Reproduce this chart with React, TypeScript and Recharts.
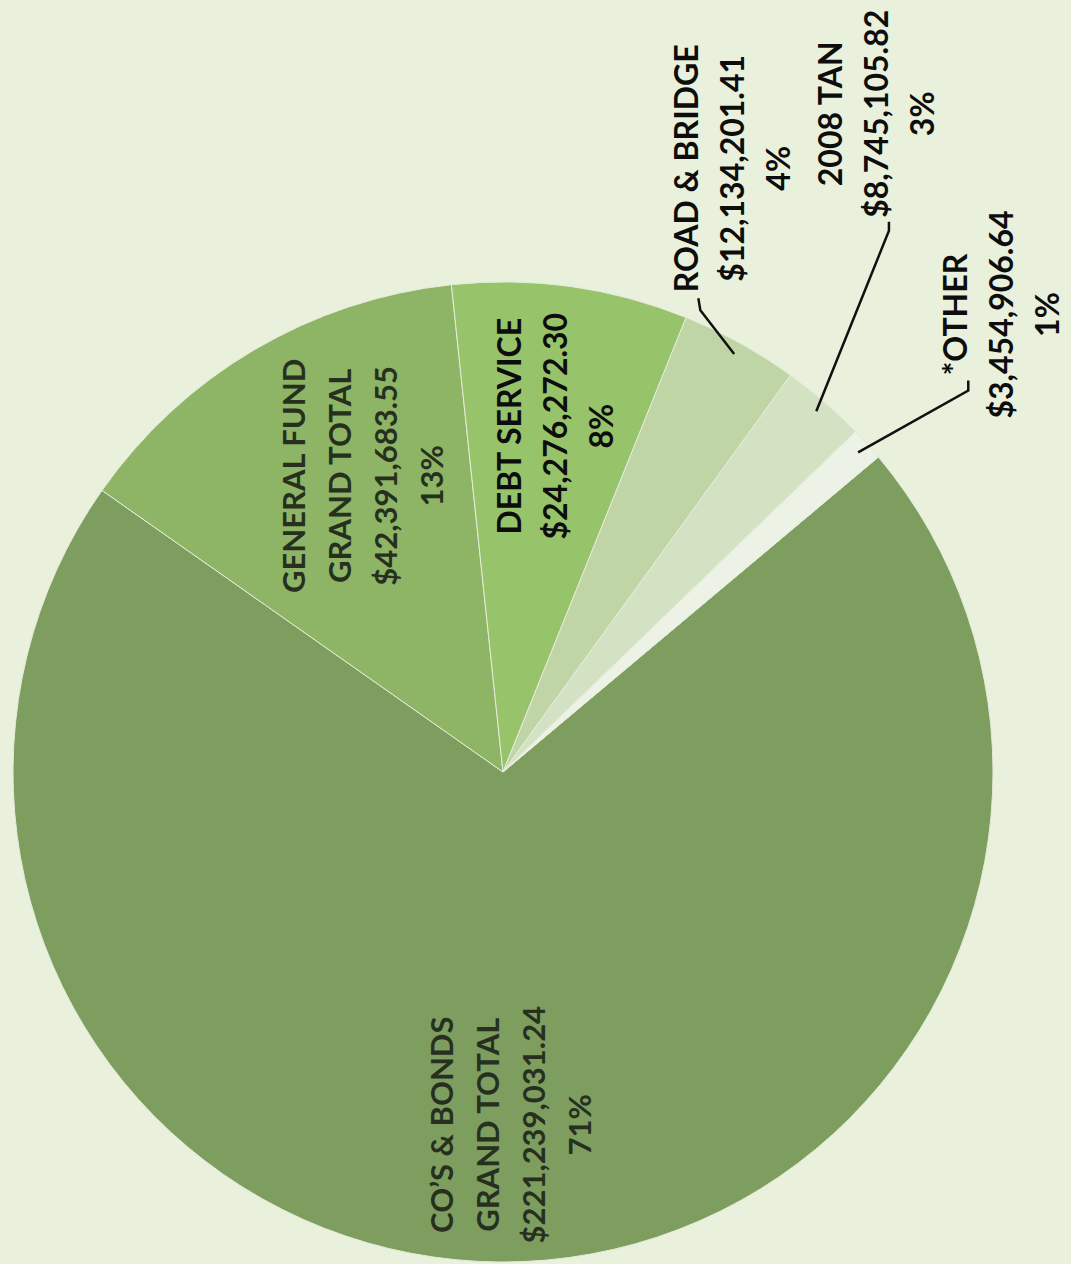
import React from "react";
import { PieChart, Pie, Cell } from "recharts";

// slice order runs clockwise from the Other/CO's boundary
const CATEGORY_LINES = [
  ["CO’S & BONDS", "GRAND TOTAL"],
  ["GENERAL FUND", "GRAND TOTAL"],
  ["DEBT SERVICE"],
  ["ROAD & BRIDGE"],
  ["2008 TAN"],
  ["*OTHER"],
];
const AMOUNTS = [221239031.24, 42391683.55, 24276272.3, 12134201.41, 8745105.82, 3454906.64];
const PERCENT_LABELS = ["71%", "13%", "8%", "4%", "3%", "1%"];
const SLICE_COLORS = ["#7d9e5f", "#8db565", "#97c36a", "#bfd5a6", "#d4e2c4", "#edf2e6"];

// label placement (polar, relative to pie) + leader elbow/end offsets from label centre
const LABEL_LAYOUT = [
  { angle: -88.7, r: 0.72, dark: false },
  { angle: 115.2, r: 0.668, dark: false },
  { angle: 81.3, r: 0.714, dark: true },
  { angle: 69.2, r: 1.318, dark: true, leader: [[-32, 142], [-34, 130]] },
  { angle: 60.4, r: 1.545, dark: true, leader: [[12, 117], [12, 108]] },
  { angle: 42.5, r: 1.382, dark: true, leader: [[-34, 76], [-34, 66]] },
];

const BG = "#e9f0dc";
const RAD = Math.PI / 180;
const LINE_H = 46;

const fmtMoney = (v: number) =>
  "$" + v.toLocaleString("en-US", { minimumFractionDigits: 2, maximumFractionDigits: 2 });

const chartData = AMOUNTS.map((v, i) => ({ name: CATEGORY_LINES[i].join(" "), value: v }));

function renderLabel(props: any) {
  const { cx, cy, midAngle, outerRadius, index } = props;
  const lay = LABEL_LAYOUT[index];
  const x = cx + outerRadius * lay.r * Math.cos(lay.angle * RAD);
  const y = cy - outerRadius * lay.r * Math.sin(lay.angle * RAD);
  const lines = [...CATEGORY_LINES[index], fmtMoney(AMOUNTS[index]), PERCENT_LABELS[index]];
  const n = lines.length;

  let leader = null;
  if (lay.leader) {
    const sx = cx + outerRadius * 0.975 * Math.cos(midAngle * RAD);
    const sy = cy - outerRadius * 0.975 * Math.sin(midAngle * RAD);
    const pts = [[sx, sy], ...lay.leader.map(([dx, dy]) => [x + dx, y + dy])];
    leader = (
      <polyline
        points={pts.map((p) => p.join(",")).join(" ")}
        fill="none"
        stroke="#111"
        strokeWidth={2.5}
      />
    );
  }

  return (
    <g key={`lbl-${index}`}>
      {leader}
      <text
        transform={`rotate(-90 ${x} ${y})`}
        textAnchor="middle"
        fontFamily="Lato, 'Open Sans', sans-serif"
        fontSize={lay.dark ? 32 : 31}
        fontWeight={700}
        fill={lay.dark ? "#0d0d0d" : "#27301f"}
      >
        {lines.map((t, i) => (
          <tspan key={i} x={x} y={y + (i - (n - 1) / 2) * LINE_H} dy="0.35em">
            {t}
          </tspan>
        ))}
      </text>
    </g>
  );
}

export default function App() {
  return (
    <div
      style={{
        position: "absolute",
        left: 0,
        top: 0,
        width: 1071,
        height: 1264,
        background: BG,
        overflow: "hidden",
      }}
    >
      <PieChart width={1071} height={1264} margin={{ top: 0, right: 0, bottom: 0, left: 0 }}>
        <Pie
          data={chartData}
          dataKey="value"
          nameKey="name"
          cx={503}
          cy={772}
          outerRadius={490}
          startAngle={40}
          endAngle={-320}
          stroke="#e4ebd8"
          strokeWidth={1}
          label={renderLabel}
          labelLine={false}
          isAnimationActive={false}
        >
          {chartData.map((_, i) => (
            <Cell key={i} fill={SLICE_COLORS[i]} />
          ))}
        </Pie>
      </PieChart>
    </div>
  );
}
